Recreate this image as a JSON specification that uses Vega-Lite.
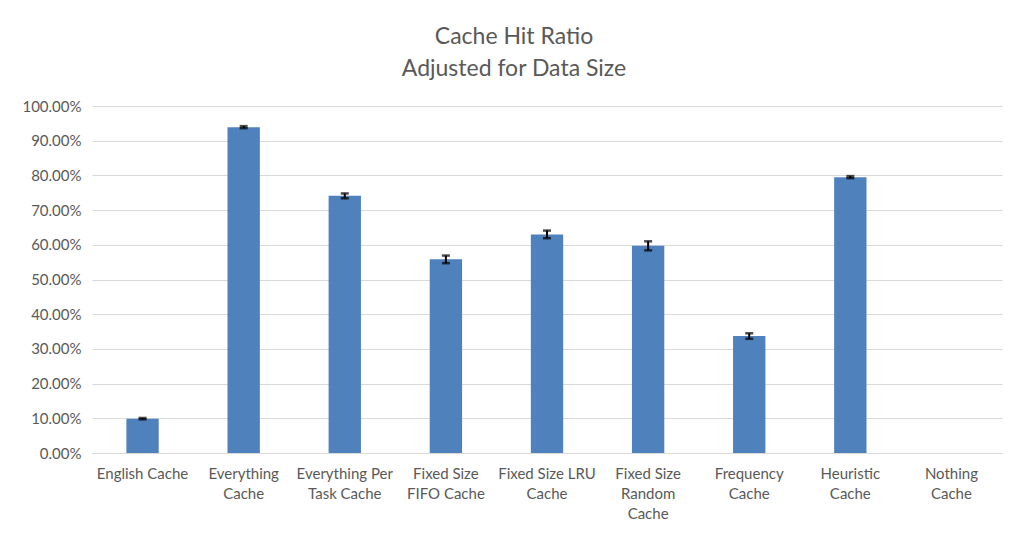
{
  "$schema": "https://vega.github.io/schema/vega-lite/v6.json",
  "width": 910,
  "height": 347,
  "autosize": {"type": "none"},
  "padding": {"left": 92, "top": 106, "right": 9, "bottom": 80},
  "background": "white",
  "title": {
    "text": ["Cache Hit Ratio", "Adjusted for Data Size"],
    "anchor": "middle",
    "frame": "group",
    "dx": -33,
    "offset": 18,
    "font": "Lato",
    "fontSize": 23,
    "fontWeight": "normal",
    "color": "#595959",
    "lineHeight": 32
  },
  "config": {
    "view": {"stroke": null},
    "axis": {"labelFont": "Lato", "labelFontSize": 15, "labelColor": "#595959"}
  },
  "data": {
    "values": [
      {"cache": "English Cache", "ratio": 0.099, "err": 0.002},
      {"cache": "Everything Cache", "ratio": 0.939, "err": 0.003},
      {"cache": "Everything Per Task Cache", "ratio": 0.741, "err": 0.007},
      {"cache": "Fixed Size FIFO Cache", "ratio": 0.558, "err": 0.011},
      {"cache": "Fixed Size LRU Cache", "ratio": 0.630, "err": 0.011},
      {"cache": "Fixed Size Random Cache", "ratio": 0.597, "err": 0.013},
      {"cache": "Frequency Cache", "ratio": 0.337, "err": 0.008},
      {"cache": "Heuristic Cache", "ratio": 0.795, "err": 0.003},
      {"cache": "Nothing Cache", "ratio": 0, "err": 0}
    ]
  },
  "encoding": {
    "x": {
      "field": "cache",
      "type": "nominal",
      "sort": null,
      "title": null,
      "scale": {"paddingInner": 0.68, "paddingOuter": 0.34},
      "axis": {
        "labelAngle": 0,
        "ticks": false,
        "domain": true,
        "domainColor": "#d9d9d9",
        "domainWidth": 1,
        "labelPadding": 13,
        "labelLineHeight": 20,
        "labelLimit": 200,
        "labelOverlap": false,
        "labelExpr": "{'English Cache':['English Cache'],'Everything Cache':['Everything','Cache'],'Everything Per Task Cache':['Everything Per','Task Cache'],'Fixed Size FIFO Cache':['Fixed Size','FIFO Cache'],'Fixed Size LRU Cache':['Fixed Size LRU','Cache'],'Fixed Size Random Cache':['Fixed Size','Random','Cache'],'Frequency Cache':['Frequency','Cache'],'Heuristic Cache':['Heuristic','Cache'],'Nothing Cache':['Nothing','Cache']}[datum.value]"
      }
    },
    "y": {
      "field": "ratio",
      "type": "quantitative",
      "title": null,
      "scale": {"domain": [0, 1], "nice": false},
      "axis": {
        "format": ".2%",
        "values": [0, 0.1, 0.2, 0.3, 0.4, 0.5, 0.6, 0.7, 0.8, 0.9, 1.0],
        "labelOverlap": false,
        "domain": false,
        "ticks": false,
        "grid": true,
        "gridColor": "#d9d9d9",
        "gridWidth": 1,
        "labelPadding": 11
      }
    }
  },
  "layer": [
    {
      "mark": {"type": "bar", "color": "#4f81bd"}
    },
    {
      "transform": [{"filter": "datum.err > 0"}],
      "mark": {
        "type": "errorbar",
        "ticks": {"size": 8, "thickness": 2.5, "color": "black"},
        "rule": {"strokeWidth": 2, "color": "black"}
      },
      "encoding": {
        "yError": {"field": "err"}
      }
    }
  ]
}
